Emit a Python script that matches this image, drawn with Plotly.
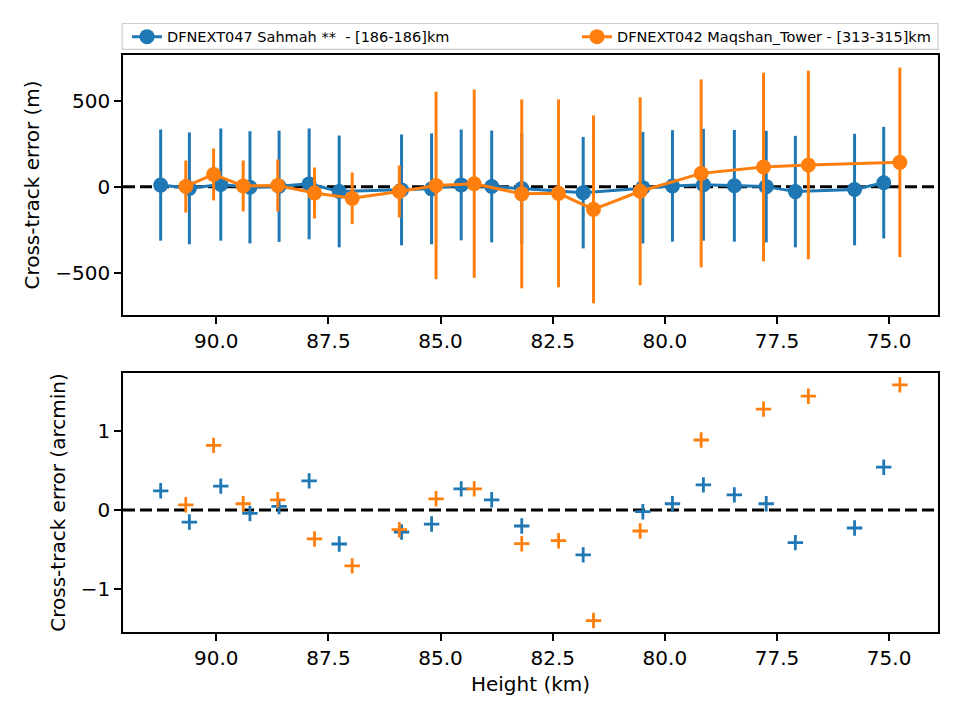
import plotly.graph_objects as go
from plotly.subplots import make_subplots

# ---- data ----
blue_name = "DFNEXT047 Sahmah **  - [186-186]km"
orange_name = "DFNEXT042 Maqshan_Tower - [313-315]km"

blue_h = [91.24, 90.60, 89.90, 89.25, 88.60, 87.93, 87.26, 85.87, 85.20, 84.54, 83.86,
          83.19, 81.82, 80.49, 79.83, 79.14, 78.45, 77.74, 77.09, 75.77, 75.12]
blue_m = [10, -9, 13, -3, 3, 17, -27, -18, -12, 11, 2, -10, -34, -5, 5, 12, 6, 1, -28, -16, 24]
blue_err = [323, 325, 326, 326, 323, 322, 325, 322, 322, 322, 325, 322, 324, 324, 324, 325,
            325, 324, 324, 324, 324]
blue_arc = [0.244, -0.152, 0.303, -0.043, 0.046, 0.37, -0.43, -0.278, -0.177, 0.269, 0.13,
            -0.202, -0.568, -0.021, 0.08, 0.319, 0.193, 0.08, -0.413, -0.227, 0.543]

orange_h = [90.68, 90.06, 89.40, 88.63, 87.81, 86.97, 85.92, 85.10, 84.25, 83.19, 82.37,
            81.59, 80.55, 79.19, 77.80, 76.80, 74.76]
orange_m = [2, 72, 5, 8, -36, -67, -27, 8, 18, -41, -38, -131, -26, 78, 115, 127, 142]
orange_err = [151, 151, 148, 151, 148, 150, 151, 545, 547, 549, 546, 546, 546, 546, 548, 548, 551]
orange_arc = [0.067, 0.82, 0.08, 0.13, -0.366, -0.707, -0.249, 0.143, 0.269, -0.426, -0.388,
              -1.40, -0.265, 0.888, 1.279, 1.443, 1.586]

x_ticks = [90.0, 87.5, 85.0, 82.5, 80.0, 77.5, 75.0]
top_yticks = [-500, 0, 500]
bot_yticks = [-1, 0, 1]

BLUE = "#1f77b4"
ORANGE = "#ff7f0e"
FONT = "DejaVu Sans"

fig = make_subplots(rows=2, cols=1, vertical_spacing=0.1)

for name, h, m, err, col, lg in [(blue_name, blue_h, blue_m, blue_err, BLUE, "legend"),
                                 (orange_name, orange_h, orange_m, orange_err, ORANGE, "legend2")]:
    fig.add_trace(go.Scatter(
        x=h, y=m, name=name, mode="lines+markers",
        line=dict(color=col, width=3),
        marker=dict(color=col, size=15),
        error_y=dict(type="data", array=err, visible=True, color=col, thickness=3, width=0),
        showlegend=True, legend=lg), row=1, col=1)

for name, h, a, col in [(blue_name, blue_h, blue_arc, BLUE), (orange_name, orange_h, orange_arc, ORANGE)]:
    fig.add_trace(go.Scatter(
        x=h, y=a, name=name, mode="markers",
        marker=dict(symbol="cross-thin", size=11, line=dict(color=col, width=2.8), color=col),
        showlegend=False), row=2, col=1)

# zero lines
for yref in ["y", "y2"]:
    fig.add_shape(type="line", xref="x domain" if yref == "y" else "x2 domain", yref=yref,
                  x0=0, x1=1, y0=0, y1=0, layer="below",
                  line=dict(color="black", width=3, dash="12px,5px"))

# legend frame
fig.add_shape(type="rect", xref="paper", yref="paper", x0=-0.001, x1=1.0,
              y0=(632 - 49.3) / 577, y1=(632 - 23.5) / 577, layer="below",
              line=dict(color="#cccccc", width=1.2), fillcolor="white")

axis_common = dict(showline=True, linecolor="black", linewidth=1.6, mirror=True,
                   ticks="outside", ticklen=7, tickwidth=1.6, tickcolor="black",
                   showgrid=False, zeroline=False,
                   tickfont=dict(family=FONT, size=20, color="black"))

xr = [92.08, 73.91]
fig.update_xaxes(range=xr, tickvals=x_ticks, tickformat=".1f", **axis_common)
fig.update_xaxes(row=2, col=1, title=dict(text="Height (km)", font=dict(family=FONT, size=20, color="black"), standoff=8))
fig.update_yaxes(row=1, col=1, range=[-745, 766], tickvals=top_yticks, **axis_common,
                 title=dict(text="Cross-track error (m)", font=dict(family=FONT, size=20, color="black"), standoff=10))
fig.update_yaxes(row=2, col=1, range=[-1.545, 1.737], tickvals=bot_yticks, tickformat="d", **axis_common,
                 title=dict(text="Cross-track error (arcmin)", font=dict(family=FONT, size=20, color="black"), standoff=10))

legend_common = dict(orientation="h", yanchor="middle", y=(632 - 36.7) / 577,
                     font=dict(family=FONT, size=14.5, color="black"),
                     borderwidth=0, bgcolor="rgba(0,0,0,0)", itemwidth=30)

fig.update_layout(
    width=960, height=720,
    margin=dict(l=123, r=22, t=55, b=88, autoexpand=False),
    plot_bgcolor="white", paper_bgcolor="white",
    font=dict(family=FONT, color="black"),
    yaxis=dict(domain=[0.5494, 1.0]),
    yaxis2=dict(domain=[0.0, 0.4489]),
    legend=dict(x=(127 - 123) / 815, xanchor="left", **legend_common),
    legend2=dict(x=(577 - 123) / 815, xanchor="left", **legend_common),
)

fig.write_html("out.html")
